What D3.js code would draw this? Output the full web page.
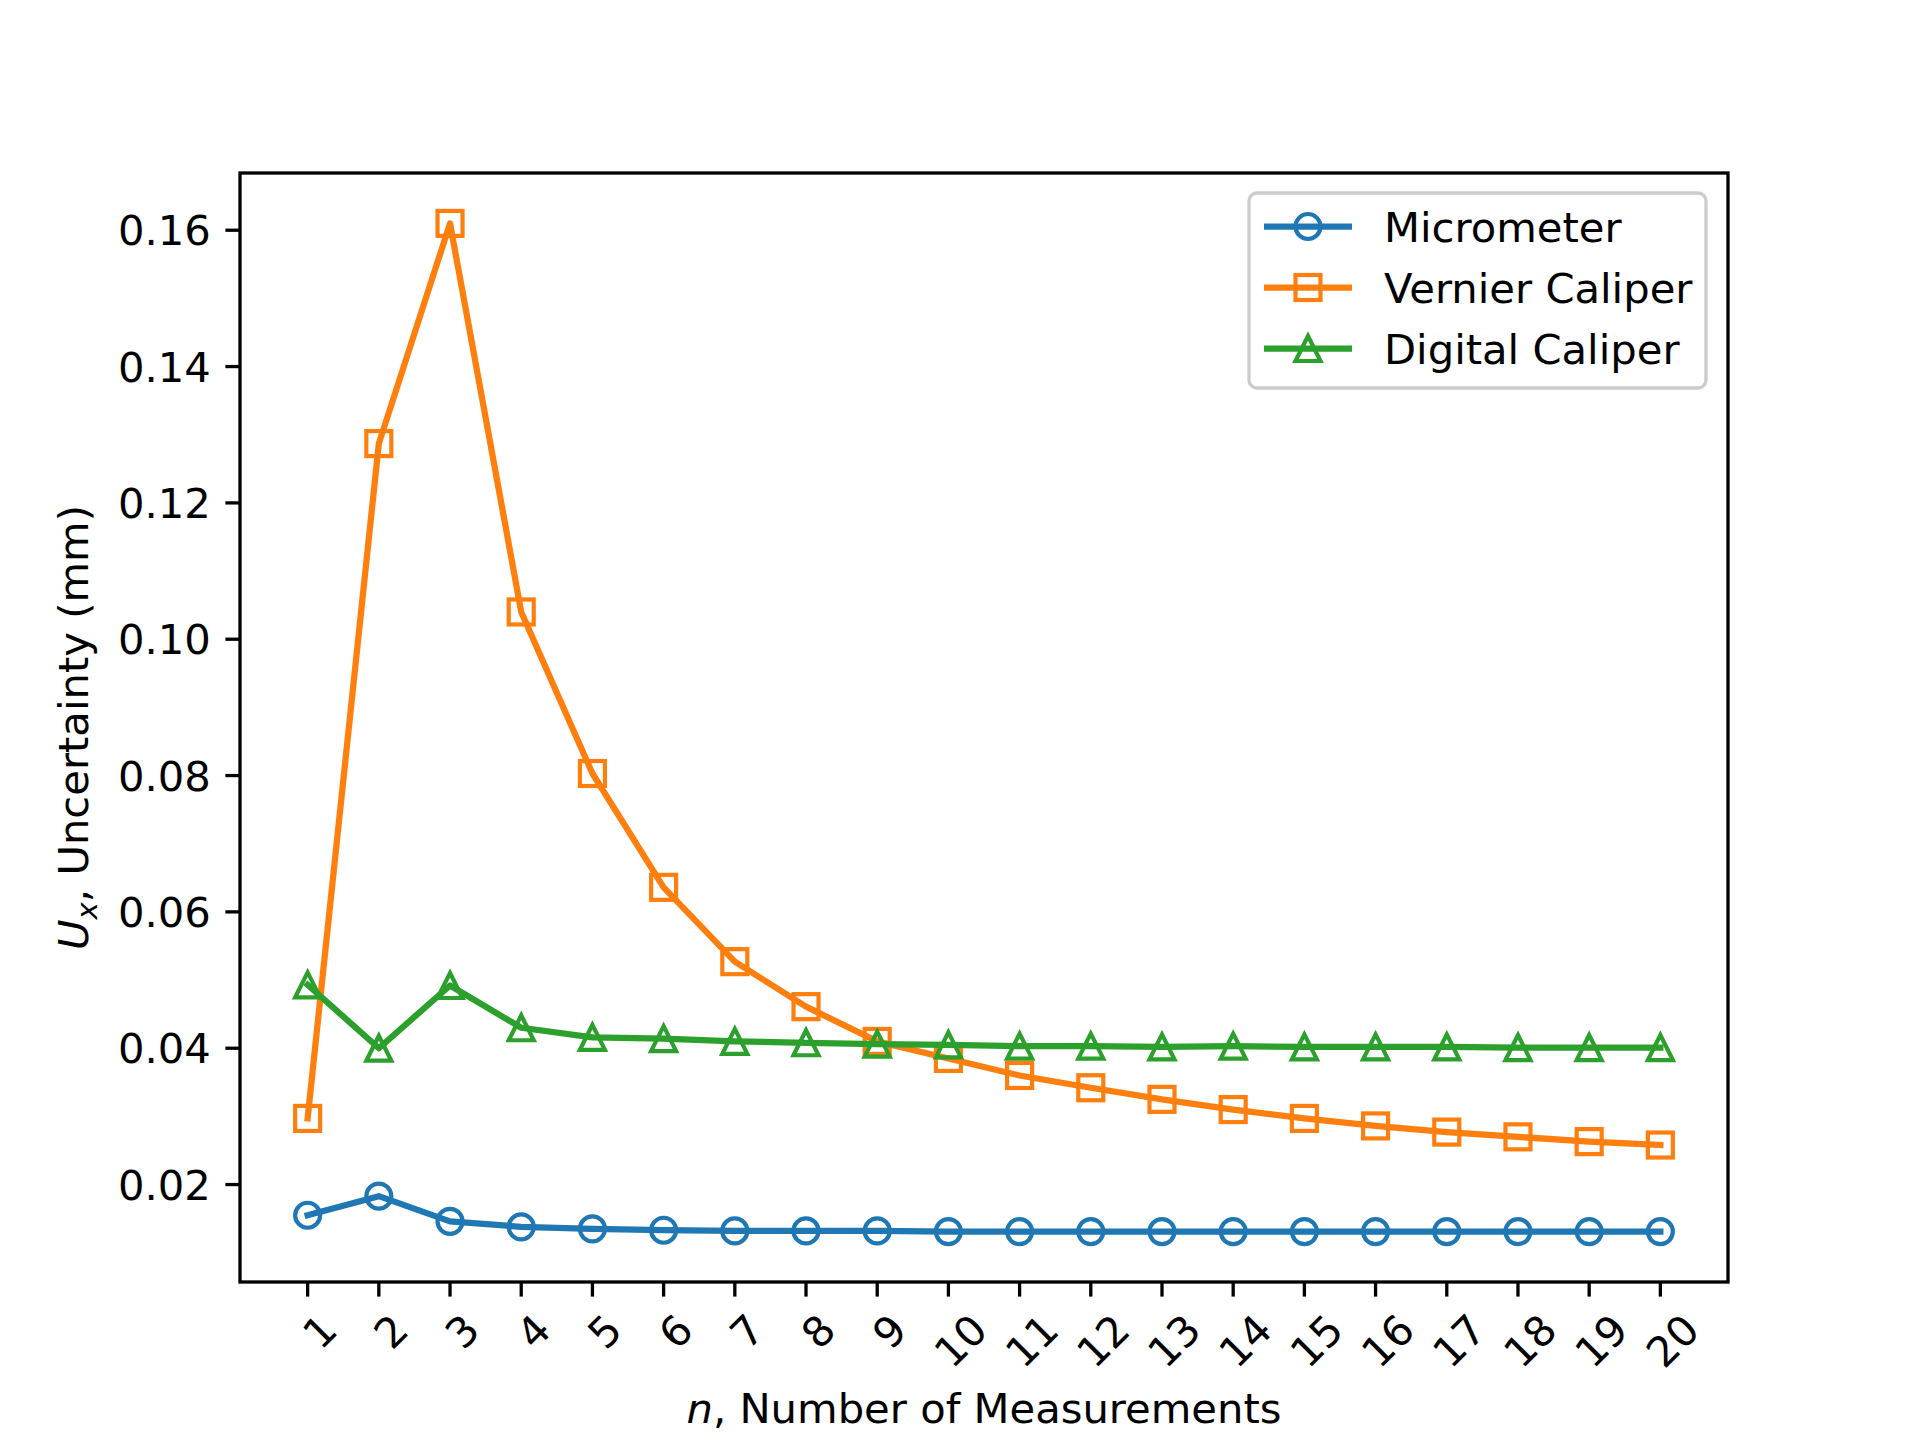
<!DOCTYPE html>
<html><head><meta charset="utf-8">
<script src="https://cdn.jsdelivr.net/npm/d3@7"></script>
<style>body{margin:0;background:#fff}text{font-family:"DejaVu Sans",sans-serif}</style>
</head><body>
<svg id="c" width="1920" height="1440"></svg>
<script>
var nValues = d3.range(1, 21);
var micrometer = [0.0155,0.0183,0.0146,0.0138,0.0135,0.0133,0.0132,0.0132,0.0132,0.0131,0.0131,0.0131,0.0131,0.0131,0.0131,0.0131,0.0131,0.0131,0.0131,0.0131];
var vernier = [0.0297,0.1287,0.1610,0.1040,0.0803,0.0636,0.0527,0.0461,0.0410,0.0385,0.0360,0.0342,0.0325,0.0310,0.0297,0.0286,0.0277,0.0270,0.0263,0.0258];
var digital = [0.0493,0.0400,0.0492,0.0430,0.0416,0.0414,0.0410,0.0408,0.0406,0.0405,0.0403,0.0403,0.0402,0.0403,0.0402,0.0402,0.0402,0.0401,0.0401,0.0401];
var yTicks = [0.02,0.04,0.06,0.08,0.10,0.12,0.14,0.16];
var seriesNames = ["Micrometer","Vernier Caliper","Digital Caliper"];
var colors = ["#1f77b4","#ff7f0e","#2ca02c"];
var markers = ["circle","square","triangle"];

var svg = d3.select("#c");
var L = 240, R = 1728, T = 173, B = 1282;
var all = micrometer.concat(vernier, digital);
var lo = d3.min(all), hi = d3.max(all), pad = (hi - lo) * 0.05;
var x = d3.scaleLinear().domain([1 - 0.95, 20 + 0.95]).range([L, R]);
var y = d3.scaleLinear().domain([lo - pad, hi + pad]).range([B, T]);

var fs = 41.7, tickLen = 14.6, tw = 3.3;

var data = [micrometer, vernier, digital];
var line = d3.line().x(function(d, i){ return x(nValues[i]); }).y(function(d){ return y(d); });

function drawMarker(g, type, cx, cy) {
  var s = 12.5;
  if (type === "circle") g.append("circle").attr("cx", cx).attr("cy", cy).attr("r", s);
  else if (type === "square") g.append("rect").attr("x", cx - s).attr("y", cy - s).attr("width", 2*s).attr("height", 2*s);
  else g.append("path").attr("d", "M" + cx + "," + (cy - s) + "L" + (cx + s) + "," + (cy + s) + "L" + (cx - s) + "," + (cy + s) + "Z");
}

data.forEach(function(vals, k) {
  var g = svg.append("g");
  g.append("path").attr("d", line(vals)).attr("fill", "none").attr("stroke", colors[k])
    .attr("stroke-width", 6.25).attr("stroke-linejoin", "round").attr("stroke-linecap", "square");
  var mg = g.append("g").attr("fill", "none").attr("stroke", colors[k]).attr("stroke-width", 4.2);
  vals.forEach(function(v, i){ drawMarker(mg, markers[k], x(nValues[i]), y(v)); });
});

svg.append("rect").attr("x", L).attr("y", T).attr("width", R - L).attr("height", B - T)
  .attr("fill", "none").attr("stroke", "#000").attr("stroke-width", tw);

yTicks.forEach(function(t){
  svg.append("line").attr("x1", L - tickLen).attr("x2", L).attr("y1", y(t)).attr("y2", y(t)).attr("stroke", "#000").attr("stroke-width", tw);
  svg.append("text").attr("x", L - tickLen - 14.6).attr("y", y(t)).attr("dy", "0.36em")
    .attr("text-anchor", "end").attr("font-size", fs).text(t.toFixed(2));
});

nValues.forEach(function(n){
  svg.append("line").attr("x1", x(n)).attr("x2", x(n)).attr("y1", B).attr("y2", B + tickLen).attr("stroke", "#000").attr("stroke-width", tw);
  var t = svg.append("text").attr("font-size", fs).attr("text-anchor", "middle").text(n);
  var w = t.node().getBBox().width, h = fs * 0.73;
  var bb = (w + h) / Math.SQRT2;
  var cy = B + tickLen + 14.6 + bb / 2;
  t.attr("transform", "translate(" + (x(n) + 12) + "," + cy + ") rotate(-45)").attr("dy", "0.36em");
});

var xl = svg.append("text").attr("x", (L + R) / 2).attr("y", 1423).attr("text-anchor", "middle").attr("font-size", fs);
xl.append("tspan").attr("font-style", "italic").text("n");
xl.append("tspan").text(", Number of Measurements");

var yl = svg.append("text").attr("transform", "translate(88," + ((T + B) / 2) + ") rotate(-90)")
  .attr("text-anchor", "middle").attr("font-size", fs);
yl.append("tspan").attr("font-style", "italic").text("U");
yl.append("tspan").attr("font-style", "italic").attr("font-size", fs * 0.7).attr("dy", 9).text("x");
yl.append("tspan").attr("dy", -9).text(", Uncertainty (mm)");

var lg = svg.append("g");
lg.append("rect").attr("x", 1249).attr("y", 193).attr("width", 457).attr("height", 195).attr("rx", 8)
  .attr("fill", "#fff").attr("fill-opacity", 0.8).attr("stroke", "#cccccc").attr("stroke-width", 3.3);
seriesNames.forEach(function(name, k){
  var ry = 226.5 + k * 61;
  lg.append("line").attr("x1", 1264).attr("x2", 1352).attr("y1", ry).attr("y2", ry)
    .attr("stroke", colors[k]).attr("stroke-width", 6.25);
  var mg = lg.append("g").attr("fill", "none").attr("stroke", colors[k]).attr("stroke-width", 4.2);
  drawMarker(mg, markers[k], 1308, ry);
  lg.append("text").attr("x", 1384).attr("y", ry).attr("dy", "0.36em").attr("font-size", fs).text(name);
});
</script>
</body></html>
